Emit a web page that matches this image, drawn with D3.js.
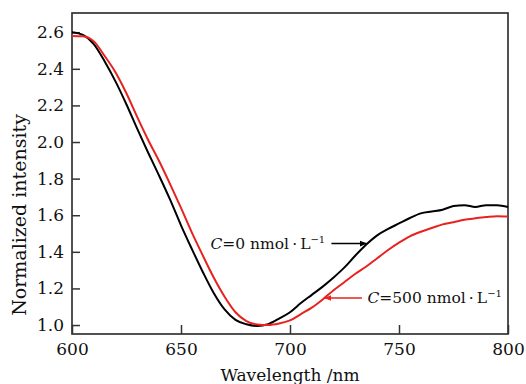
<!DOCTYPE html>
<html>
<head>
<meta charset="utf-8">
<script src="https://cdn.jsdelivr.net/npm/d3@7"></script>
<style>
  body { margin: 0; background: #fff; }
  text { font-family: "DejaVu Serif", serif; fill: #111; }
</style>
</head>
<body>
<div id="d3-container"></div>
<script>
// wavelength samples (nm)
let wavelengths = [600, 605, 610, 615, 620, 625, 630, 635, 640, 645, 650, 655, 660, 665, 670, 675, 680, 685, 690, 695,
  700, 705, 710, 715, 720, 725, 730, 735, 740, 745, 750, 755, 760, 765, 770, 775, 780, 785, 790, 795, 800];

// C = 0 nmol/L (black)
let c0Values = [2.600, 2.585, 2.535, 2.44, 2.33, 2.205, 2.07, 1.94, 1.815, 1.685, 1.545, 1.415, 1.29, 1.175, 1.085, 1.028, 1.004, 0.995, 1.005, 1.035,
  1.07, 1.12, 1.165, 1.21, 1.26, 1.315, 1.38, 1.44, 1.49, 1.525, 1.555, 1.585, 1.61, 1.62, 1.63, 1.65, 1.655, 1.645, 1.655, 1.655, 1.645];

// C = 500 nmol/L (red)
let c500Values = [2.58, 2.578, 2.55, 2.47, 2.38, 2.265, 2.135, 2.01, 1.895, 1.77, 1.64, 1.505, 1.38, 1.26, 1.155, 1.07, 1.022, 1.003, 1.0, 1.008,
  1.025, 1.06, 1.095, 1.14, 1.19, 1.235, 1.28, 1.32, 1.365, 1.41, 1.45, 1.485, 1.51, 1.53, 1.55, 1.562, 1.575, 1.583, 1.59, 1.595, 1.593];

let xTicks = [600, 650, 700, 750, 800];
let yTicks = [1.0, 1.2, 1.4, 1.6, 1.8, 2.0, 2.2, 2.4, 2.6];

let margin = { top: 13, left: 72, right: 18, bottom: 50 },
  width = 526 - margin.left - margin.right,
  height = 384 - margin.top - margin.bottom;

let svg = d3.select('#d3-container')
  .append('svg')
  .attr('width', 526)
  .attr('height', 384);

let g = svg.append('g')
  .attr('transform', 'translate(' + margin.left + ',' + margin.top + ')');

let x = d3.scaleLinear().domain([600, 800]).range([0, width]);
let y = d3.scaleLinear().domain([0.951, 2.705]).range([height, 0]);

// axes with inward ticks
let xAxis = g.append('g')
  .attr('transform', 'translate(0,' + height + ')')
  .call(d3.axisBottom(x).tickValues(xTicks).tickSizeInner(-9).tickSizeOuter(0).tickPadding(9).tickFormat(d3.format('d')));
let yAxis = g.append('g')
  .call(d3.axisLeft(y).tickValues(yTicks).tickSizeInner(-8).tickSizeOuter(0).tickPadding(8).tickFormat(d3.format('.1f')));

[xAxis, yAxis].forEach(function(a) {
  a.select('.domain').remove();
  a.selectAll('.tick line').attr('stroke', '#333').attr('stroke-width', 1.5);
  a.selectAll('.tick text').style('font-family', '"DejaVu Serif", serif').style('font-size', '17px').attr('fill', '#000');
});

// frame
g.append('rect')
  .attr('x', 0).attr('y', 0)
  .attr('width', width).attr('height', height)
  .attr('fill', 'none')
  .attr('stroke', '#333')
  .attr('stroke-width', 1.7);

let line = d3.line()
  .x(function(d) { return x(d[0]); })
  .y(function(d) { return y(d[1]); })
  .curve(d3.curveMonotoneX);

g.append('path')
  .datum(d3.zip(wavelengths, c0Values))
  .attr('fill', 'none')
  .attr('stroke', '#000')
  .attr('stroke-width', 2)
  .attr('d', line);

g.append('path')
  .datum(d3.zip(wavelengths, c500Values))
  .attr('fill', 'none')
  .attr('stroke', '#e8221e')
  .attr('stroke-width', 2)
  .attr('d', line);

// arrow heads
let defs = svg.append('defs');
[['headBlack', '#000'], ['headRed', '#e8221e']].forEach(function(m) {
  defs.append('marker')
    .attr('id', m[0])
    .attr('viewBox', '0 0 10 10')
    .attr('refX', 9).attr('refY', 5)
    .attr('markerWidth', 7).attr('markerHeight', 7)
    .attr('markerUnits', 'userSpaceOnUse')
    .attr('orient', 'auto')
    .append('path')
    .attr('d', 'M0,1 L10,5 L0,9 Z')
    .attr('fill', m[1]);
});

// annotation C=0
let ann0 = g.append('text')
  .attr('x', x(663.5)).attr('y', y(1.445) + 5)
  .style('font-size', '15.5px')
  .attr('fill', '#000');
ann0.append('tspan').style('font-style', 'italic').text('C');
ann0.append('tspan').text('=0 nmol\u2009\u00b7\u2009L');
ann0.append('tspan').attr('dy', -6).style('font-size', '10px').text('\u22121');

g.append('line')
  .attr('x1', x(719)).attr('x2', x(735))
  .attr('y1', y(1.445)).attr('y2', y(1.445))
  .attr('stroke', '#000').attr('stroke-width', 1.5)
  .attr('marker-end', 'url(#headBlack)');

// annotation C=500
let ann500 = g.append('text')
  .attr('x', x(735.5)).attr('y', y(1.148) + 5)
  .style('font-size', '15.5px')
  .attr('fill', '#000');
ann500.append('tspan').style('font-style', 'italic').text('C');
ann500.append('tspan').text('=500 nmol\u2009\u00b7\u2009L');
ann500.append('tspan').attr('dy', -6).style('font-size', '10px').text('\u22121');

g.append('line')
  .attr('x1', x(733)).attr('x2', x(716))
  .attr('y1', y(1.148)).attr('y2', y(1.148))
  .attr('stroke', '#e8221e').attr('stroke-width', 1.5)
  .attr('marker-end', 'url(#headRed)');

// axis titles
svg.append('text')
  .attr('x', margin.left + x(700))
  .attr('y', 381)
  .attr('text-anchor', 'middle')
  .style('font-size', '17px')
  .attr('fill', '#000')
  .text('Wavelength /nm');

svg.append('text')
  .attr('transform', 'translate(26,215) rotate(-90)')
  .attr('text-anchor', 'middle')
  .style('font-size', '19px')
  .attr('fill', '#000')
  .text('Normalized intensity');
</script>
</body>
</html>
